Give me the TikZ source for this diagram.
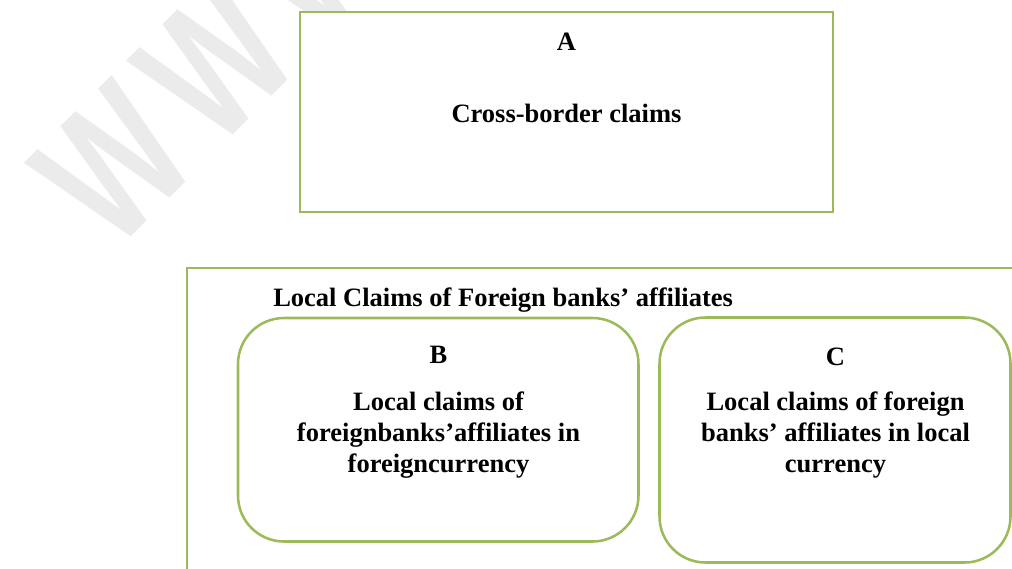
\documentclass[tikz,border=0pt]{standalone}
\usepackage{fontspec}
\setmainfont{Liberation Serif}[Ligatures=CommonOff]
\newfontfamily\wmfont{Liberation Sans}
\definecolor{boxgreen}{HTML}{9BBB59}
\definecolor{wmgray}{HTML}{EBEBEB}
\tikzset{
  squarebox/.style={draw=boxgreen,line width=2.1pt,fill=white},
  roundbox/.style={draw=boxgreen,line width=1.8pt,rounded corners=1.15cm},
  lbl/.style={font=\fontsize{18.85}{22}\selectfont\bfseries,inner sep=0pt},
  blocktext/.style={lbl,align=center},
  wmark/.style={text=wmgray,font=\wmfont\bfseries\fontsize{132}{132}\selectfont,inner sep=0pt}
}
\begin{document}
\begin{tikzpicture}[x=0.025cm,y=-0.025cm]
    \useasboundingbox (0,0) rectangle (1012,568);
    \clip (0,0) rectangle (1012,568);

    % Watermark
    \node[wmark,anchor=base west,rotate=45,xscale=0.71] (wm) at (114,254) {W\kern20pt W\kern20pt W};

    % Cross-border box
    \draw[squarebox] (300,12) rectangle (833,212);
    \node[lbl,anchor=base] (labA) at (566.5,50) {A};
    \node[lbl,anchor=base] (cross) at (566.5,122) {Cross-border claims};

    % Affiliates frame
    \draw[draw=boxgreen,line width=2.1pt] (187,268) rectangle (1040,600);
    \node[lbl,anchor=base west] (title) at (273,306) {Local Claims of Foreign banks’ affiliates};

    % Inner boxes
    \draw[roundbox] (238,318) rectangle (638.5,541.5);
    \node[lbl,anchor=base] (labB) at (438.5,363) {B};
    \node[blocktext] (textB) at (438.5,435) {Local claims of\\foreignbanks’affiliates in\\foreigncurrency};

    \draw[roundbox] (659.5,317.5) rectangle (1010.5,562.5);
    \node[lbl,anchor=base] (labC) at (835.5,365) {C};
    \node[blocktext] (textC) at (835.5,435) {Local claims of foreign\\banks’ affiliates in local\\currency};
\end{tikzpicture}
\end{document}
